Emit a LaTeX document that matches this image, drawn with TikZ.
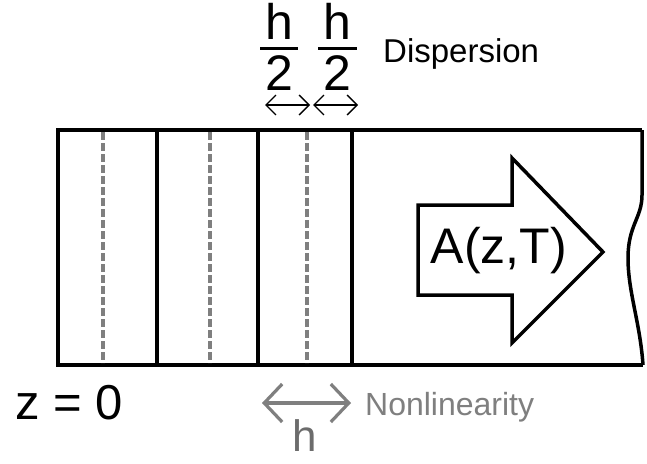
\documentclass[tikz,border=0pt]{standalone}
\usepackage{fontspec}
\setmainfont{Liberation Sans}
\usetikzlibrary{arrows.meta}
\definecolor{lgray}{HTML}{7F7F7F}
\tikzset{
  frame/.style={line width=3.5pt, line join=miter},
  split/.style={line width=3.5pt},
  half/.style={draw=lgray, line width=3.5pt, dash pattern=on 8pt off 3pt},
  smallarr/.style={line width=1.4pt, {Straight Barb[length=10pt,width=20pt]}-{Straight Barb[length=10pt,width=20pt]}},
  bigarr/.style={draw=lgray, line width=3.2pt, {Straight Barb[length=18pt,width=38pt]}-{Straight Barb[length=18pt,width=38pt]}},
  lbl/.style={inner sep=0pt, anchor=base},
}
\begin{document}
\begin{tikzpicture}[x=1pt,y=-1pt]
\useasboundingbox[fill=white] (0,0) rectangle (647,463);
% fibre segment
\draw[frame] (642,130) -- (58,130) -- (58,365) -- (643,365);
\draw[frame] (642,130) -- (642,195) .. controls (642,218) and (628,225) .. (628,258) .. controls (628,292) and (640,322) .. (643,365);
% step boundaries
\foreach \x in {157,258,352} \draw[split] (\x,130) -- (\x,365);
\foreach \x in {103,210,307} \draw[half] (\x,132) -- (\x,363);
% big arrow
\draw[frame, fill=white] (418,205) -- (512,205) -- (512,158) -- (603,252) -- (512,343) -- (512,295) -- (418,295) -- cycle;
\node[lbl] (A) at (499,263) {\fontsize{50}{60}\selectfont A(z,T)};
% z = 0
\node[lbl, anchor=base west] (z0) at (15,419) {\fontsize{49}{58}\selectfont z = 0};
% h/2 fractions
\node[lbl] (h1) at (279,39) {\fontsize{50}{60}\selectfont h};
\node[lbl] (t1) at (279,90) {\fontsize{50}{60}\selectfont 2};
\draw[line width=3pt] (260,48) -- (298,48);
\node[lbl] (h2) at (337,39) {\fontsize{50}{60}\selectfont h};
\node[lbl] (t2) at (337,90) {\fontsize{50}{60}\selectfont 2};
\draw[line width=3pt] (318,48) -- (357,48);
\node[lbl, anchor=base west] (disp) at (383,62) {\fontsize{33}{40}\selectfont Dispersion};
\coordinate (a1) at (265,105);
\coordinate (a2) at (310,105);
\coordinate (a3) at (313,105);
\coordinate (a4) at (358,105);
\draw[smallarr] (a1) -- (a2);
\draw[smallarr] (a3) -- (a4);
% nonlinearity
\coordinate (b1) at (262,403);
\coordinate (b2) at (351,403);
\draw[bigarr] (b1) -- (b2);
\node[lbl, anchor=base west, text=lgray] (nl) at (365,415) {\fontsize{32}{38}\selectfont Nonlinearity};
\node[lbl, text=lgray!85!black, text depth=0pt] (h) at (305,451) {\fontsize{44}{52}\selectfont h};
\end{tikzpicture}
\end{document}
